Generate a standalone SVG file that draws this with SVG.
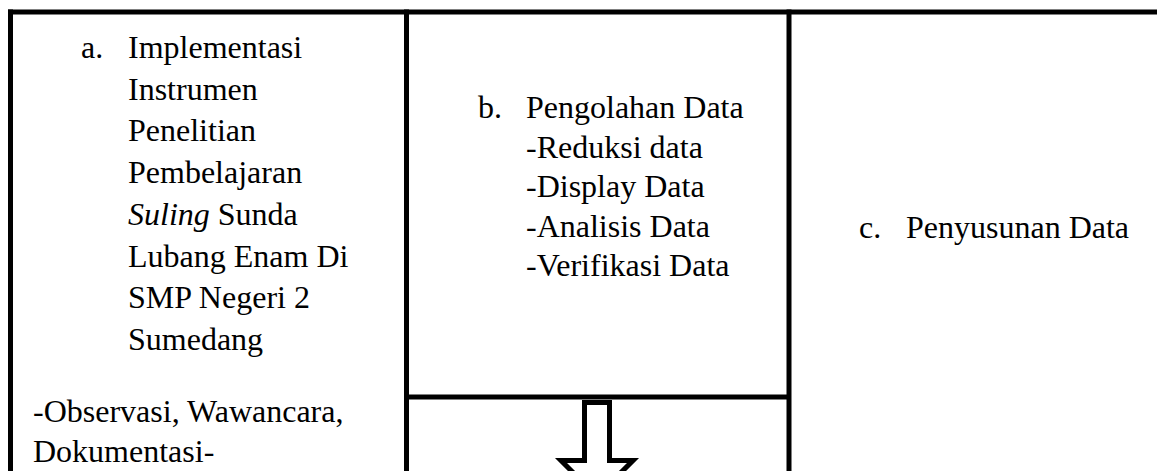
<svg xmlns="http://www.w3.org/2000/svg" width="1157" height="471" viewBox="0 0 1157 471">
<style>
.t{font-family:"Liberation Serif","Times New Roman",serif;font-size:32px;fill:#000}
.ln{stroke:#000;stroke-width:5;fill:none}
.i{font-style:italic}
</style>
<rect x="0" y="0" width="1157" height="471" fill="#fff"/>
<g id="frame">
<line class="ln" x1="8" y1="12" x2="1157" y2="12"/>
<line class="ln" x1="10.5" y1="9.5" x2="10.5" y2="471"/>
<line class="ln" x1="406.5" y1="9.5" x2="406.5" y2="471"/>
<line class="ln" x1="789" y1="9.5" x2="789" y2="471"/>
<line class="ln" x1="406.5" y1="397" x2="789" y2="397"/>
</g>
<g id="node-a">
<text class="t" x="81" y="58">a.</text>
<text class="t" x="128" y="58">Implementasi</text>
<text class="t" x="128" y="99.7">Instrumen</text>
<text class="t" x="128" y="141.4">Penelitian</text>
<text class="t" x="128" y="183.1">Pembelajaran</text>
<text class="t" x="128" y="224.8"><tspan class="i">Suling</tspan> Sunda</text>
<text class="t" x="128" y="266.5">Lubang Enam Di</text>
<text class="t" x="128" y="308.2">SMP Negeri 2</text>
<text class="t" x="128" y="349.9">Sumedang</text>
<text class="t" x="33" y="422">-Observasi, Wawancara,</text>
<text class="t" x="33" y="462">Dokumentasi-</text>
</g>
<g id="node-b">
<text class="t" x="478" y="118">b.</text>
<text class="t" x="526" y="118">Pengolahan Data</text>
<text class="t" x="526" y="157.5">-Reduksi data</text>
<text class="t" x="526" y="197">-Display Data</text>
<text class="t" x="526" y="236.5">-Analisis Data</text>
<text class="t" x="526" y="276">-Verifikasi Data</text>
</g>
<g id="node-c">
<text class="t" x="859" y="238">c.</text>
<text class="t" x="906" y="238">Penyusunan Data</text>
</g>
<g id="connectors">
<polygon class="ln" fill="#fff" style="fill:#fff" points="584.5,402.5 609.5,402.5 609.5,460.5 633,460.5 597,496.5 561,460.5 584.5,460.5"/>
</g>
</svg>
